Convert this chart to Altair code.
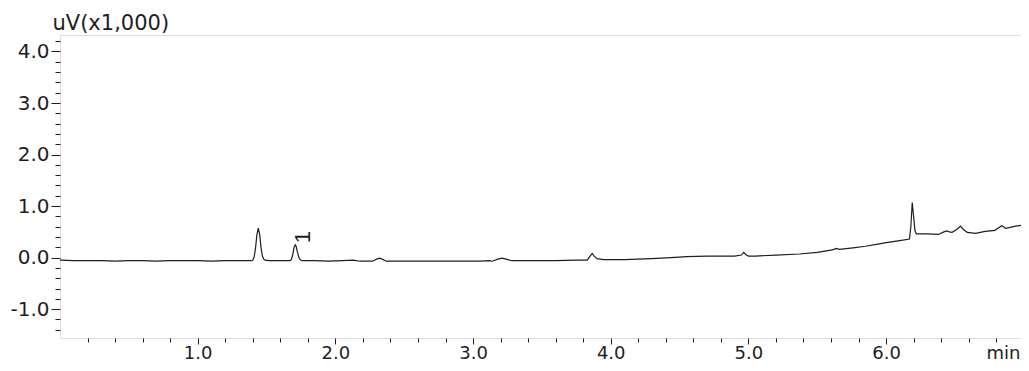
import altair as alt
import pandas as pd

# retention time (min) and detector signal (uV x1,000)
times = [0.00, 0.10, 0.20, 0.30, 0.40, 0.50, 0.60, 0.70, 0.80, 0.90, 1.00, 1.10, 1.20, 1.30, 1.36,
         1.39, 1.40, 1.41, 1.42, 1.43, 1.44, 1.45, 1.46, 1.47, 1.48, 1.49, 1.52,
         1.60, 1.67, 1.68, 1.69, 1.70, 1.708, 1.715, 1.725, 1.735, 1.745, 1.76,
         1.85, 1.95, 2.05, 2.13, 2.18, 2.27, 2.30, 2.32, 2.34, 2.37,
         2.50, 2.70, 2.90, 3.05, 3.12, 3.14, 3.18, 3.21, 3.24, 3.28,
         3.40, 3.60, 3.75, 3.83, 3.85, 3.865, 3.88, 3.90, 3.95,
         4.10, 4.30, 4.50, 4.55, 4.70, 4.90, 4.95, 4.966, 4.98, 5.00, 5.05,
         5.20, 5.37, 5.50, 5.61, 5.64, 5.66, 5.76, 5.85, 5.94,
         6.00, 6.10, 6.17, 6.18, 6.19, 6.20, 6.21, 6.22, 6.30, 6.38, 6.42, 6.44, 6.46, 6.48,
         6.52, 6.54, 6.56, 6.59, 6.65, 6.72, 6.79, 6.84, 6.87, 6.94, 7.02]
signal = [-0.05, -0.06, -0.06, -0.06, -0.07, -0.06, -0.06, -0.07, -0.06, -0.06, -0.06, -0.07, -0.06, -0.06, -0.06,
          -0.06, -0.05, 0.01, 0.18, 0.44, 0.57, 0.45, 0.20, 0.03, -0.03, -0.05, -0.06,
          -0.06, -0.06, -0.04, 0.05, 0.20, 0.25, 0.22, 0.10, 0.00, -0.04, -0.06,
          -0.06, -0.07, -0.06, -0.05, -0.07, -0.07, -0.03, -0.01, -0.03, -0.07,
          -0.07, -0.07, -0.07, -0.07, -0.06, -0.07, -0.03, -0.01, -0.03, -0.06,
          -0.06, -0.06, -0.05, -0.05, 0.03, 0.08, 0.03, -0.02, -0.04,
          -0.04, -0.02, 0.01, 0.02, 0.03, 0.03, 0.05, 0.10, 0.06, 0.03, 0.03,
          0.05, 0.07, 0.10, 0.15, 0.18, 0.16, 0.19, 0.22, 0.26,
          0.29, 0.33, 0.36, 0.60, 1.07, 0.80, 0.52, 0.46, 0.46, 0.45, 0.50, 0.52, 0.50, 0.49,
          0.56, 0.61, 0.55, 0.49, 0.47, 0.51, 0.53, 0.62, 0.57, 0.61, 0.64]

peak_time = [1.819]
peak_level = [0.40]
peak_name = ["1"]

x_major = [1, 2, 3, 4, 5, 6]
x_minor = [0.2, 0.4, 0.6, 0.8, 1.2, 1.4, 1.6, 1.8, 2.2, 2.4, 2.6, 2.8, 3.2, 3.4, 3.6, 3.8,
           4.2, 4.4, 4.6, 4.8, 5.2, 5.4, 5.6, 5.8, 6.2, 6.4, 6.6, 6.8]
y_major = [-1, 0, 1, 2, 3, 4]
y_minor = [-1.4, -1.2, -0.8, -0.6, -0.4, -0.2, 0.2, 0.4, 0.6, 0.8, 1.2, 1.4, 1.6, 1.8,
           2.2, 2.4, 2.6, 2.8, 3.2, 3.4, 3.6, 3.8, 4.2]

df = pd.DataFrame({"t": times, "v": signal})
lab = pd.DataFrame({"t": peak_time, "v": peak_level, "name": peak_name})

FONT = "DejaVu Sans"
INK = "#1e1e1e"
LBL = "datum.value < 0 ? '-' + format(-datum.value, '.1f') : format(datum.value, '.1f')"

xs = alt.Scale(domain=[0, 6.98], nice=False, zero=False)
ys = alt.Scale(domain=[-1.56, 4.32], nice=False, zero=False)

line = alt.Chart(df).mark_line(color=INK, strokeWidth=1.2, clip=True).encode(
    x=alt.X("t:Q", scale=xs, axis=alt.Axis(
        values=x_major, labelExpr=LBL, orient="bottom", tickSize=6, tickColor=INK,
        labelPadding=0, labelFont=FONT, labelFontSize=18, labelColor=INK,
        grid=False, domain=False, title="min", titleFont=FONT, titleFontSize=18,
        titleFontWeight="normal", titleColor=INK, titleAlign="right", titleBaseline="top",
        titleX=960, titleY=6)),
    y=alt.Y("v:Q", scale=ys, axis=alt.Axis(
        values=y_major, labelExpr=LBL, orient="left", tickSize=9, tickColor=INK,
        labelPadding=2, labelFont=FONT, labelFontSize=20, labelColor=INK,
        grid=False, domain=False, title="uV(x1,000)", titleFont=FONT, titleFontSize=21,
        titleFontWeight="normal", titleColor=INK, titleAngle=0, titleAlign="left",
        titleBaseline="alphabetic", titleX=-8, titleY=-6)),
)

label = alt.Chart(lab).mark_text(
    angle=270, align="center", baseline="alphabetic", font="Liberation Sans",
    fontSize=22, color=INK
).encode(
    x=alt.X("t:Q", scale=xs, axis=alt.Axis(
        values=x_minor, labels=False, orient="bottom", tickSize=4, tickColor=INK,
        grid=False, domain=False, title=None)),
    y=alt.Y("v:Q", scale=ys, axis=alt.Axis(
        values=y_minor, labels=False, orient="left", tickSize=5, tickColor=INK,
        grid=False, domain=False, title=None)),
    text="name:N",
)

chart = alt.layer(line, label).resolve_axis(x="independent", y="independent").properties(
    width=961, height=303,
    padding={"left": 52, "top": 27, "right": 0, "bottom": 25},
    autosize=alt.AutoSizeParams(type="none"),
).configure_view(stroke="#b0b0b0", strokeWidth=1).configure(background="white")

chart.save("out.html", embed_options={"renderer": "svg", "actions": False})
